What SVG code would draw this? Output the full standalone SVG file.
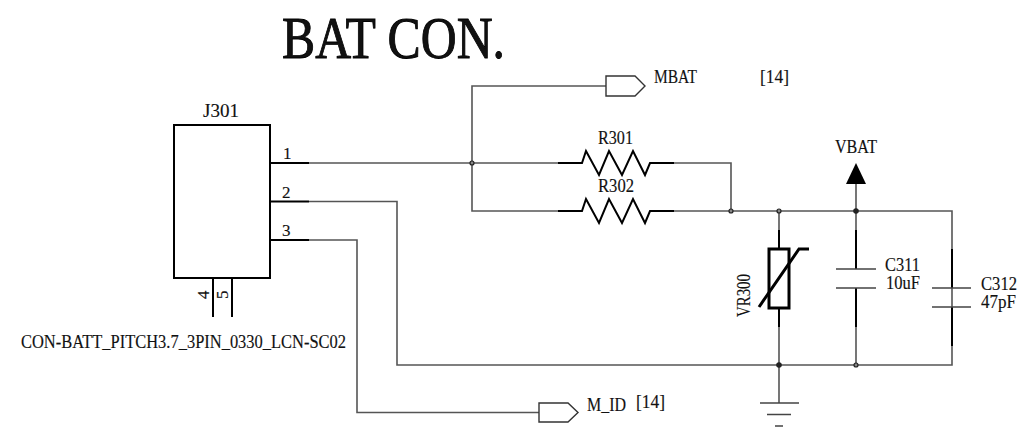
<svg xmlns="http://www.w3.org/2000/svg" width="1019" height="430" viewBox="0 0 1019 430">
<style>
text{font-family:"Liberation Serif","Times New Roman",serif;font-size:18px;fill:#111;stroke:#111;stroke-width:.15}
.w{fill:none;stroke:#555;stroke-width:1.6}
.t{fill:none;stroke:#000;stroke-width:2}
.p{fill:#fff;stroke:#333;stroke-width:1.4}
.d{fill:#888;stroke:#222;stroke-width:1.2}
.g{fill:none;stroke:#444;stroke-width:1.4}
</style>
<rect width="1019" height="430" fill="#fff"/>
<text id="title" x="282" y="58" style="font-size:59px;stroke:#000;stroke-width:.9" textLength="223" lengthAdjust="spacingAndGlyphs">BAT CON.</text>
<g id="connectors">
<path class="w" d="M309 163H558M472 163V86H606M472 163V211H558M674 163H731V211M674 211H952V365H397V201.5H309M309 240H357V412.5H539M856 184V230M779 211V230M779 327V403M856 327V365M952 211V249M952 346V365"/>
<circle class="d" cx="472" cy="163" r="2"/>
<circle class="d" cx="731" cy="211" r="2"/>
<circle class="d" cx="779" cy="211" r="2"/>
<circle class="d" cx="856" cy="211" r="2.2" style="fill:#222"/>
<circle class="d" cx="779" cy="365" r="2.2" style="fill:#222"/>
<circle class="d" cx="856" cy="365" r="2"/>
</g>
<g id="J301">
<rect class="t" x="174" y="125" width="96" height="153"/>
<path class="t" d="M270 163H309M270 201.5H309M270 240H309M213 278V317M232 278V317"/>
<text x="203" y="117" textLength="36" lengthAdjust="spacingAndGlyphs">J301</text>
<text x="283" y="159" style="font-size:17px">1</text>
<text x="282" y="198" style="font-size:17px">2</text>
<text x="282" y="236" style="font-size:17px">3</text>
<text transform="translate(209 299) rotate(-90)" style="font-size:17px">4</text>
<text transform="translate(228 299) rotate(-90)" style="font-size:17px">5</text>
<text x="21" y="348" textLength="325" lengthAdjust="spacingAndGlyphs">CON-BATT_PITCH3.7_3PIN_0330_LCN-SC02</text>
</g>
<g id="MBAT">
<path class="p" d="M606 76H635L645 86L635 96H606Z"/>
<text x="654" y="83" textLength="43" lengthAdjust="spacingAndGlyphs">MBAT</text>
<text x="760" y="83" textLength="29" lengthAdjust="spacingAndGlyphs">[14]</text>
</g>
<g id="M_ID">
<path class="p" d="M539 403H568L578 412.5L568 422H539Z"/>
<text x="587" y="411" textLength="39" lengthAdjust="spacingAndGlyphs">M_ID</text>
<text x="636" y="408" textLength="29" lengthAdjust="spacingAndGlyphs">[14]</text>
</g>
<g id="R301">
<path class="t" d="M558 163H582L586 151L599 175L609 151L622 175L633 151L645 175L650 163H674"/>
<text x="598" y="144" textLength="35" lengthAdjust="spacingAndGlyphs">R301</text>
</g>
<g id="R302">
<path class="t" d="M558 211H582L586 199L599 223L609 199L622 223L633 199L645 223L650 211H674"/>
<text x="598" y="192" textLength="36" lengthAdjust="spacingAndGlyphs">R302</text>
</g>
<g id="VBAT">
<path d="M856 163L866 184H846Z" fill="#000"/>
<text x="835" y="153" textLength="42" lengthAdjust="spacingAndGlyphs">VBAT</text>
</g>
<g id="VR300">
<rect class="t" x="769" y="249" width="20" height="59" style="stroke-width:3"/>
<path class="t" d="M779 230V249M779 308V327"/>
<path class="t" d="M759 307L799 249H809" style="stroke-width:3"/>
<text transform="translate(750 317) rotate(-90)" textLength="43" lengthAdjust="spacingAndGlyphs">VR300</text>
</g>
<g id="C311">
<path class="t" d="M856 230V269M856 288V327"/>
<path class="g" d="M836 269H876M836 288H876"/>
<text x="885" y="271" textLength="35" lengthAdjust="spacingAndGlyphs">C311</text>
<text x="886" y="289" textLength="34" lengthAdjust="spacingAndGlyphs">10uF</text>
</g>
<g id="C312">
<path class="t" d="M952 249V288M952 307V346"/>
<path class="g" d="M932 288H971M932 307H971"/>
<text x="981" y="290" textLength="36" lengthAdjust="spacingAndGlyphs">C312</text>
<text x="981" y="308" textLength="35" lengthAdjust="spacingAndGlyphs">47pF</text>
</g>
<g id="GND">
<path class="g" d="M760 403H799M767 414.5H791M775 426H783"/>
</g>
</svg>
